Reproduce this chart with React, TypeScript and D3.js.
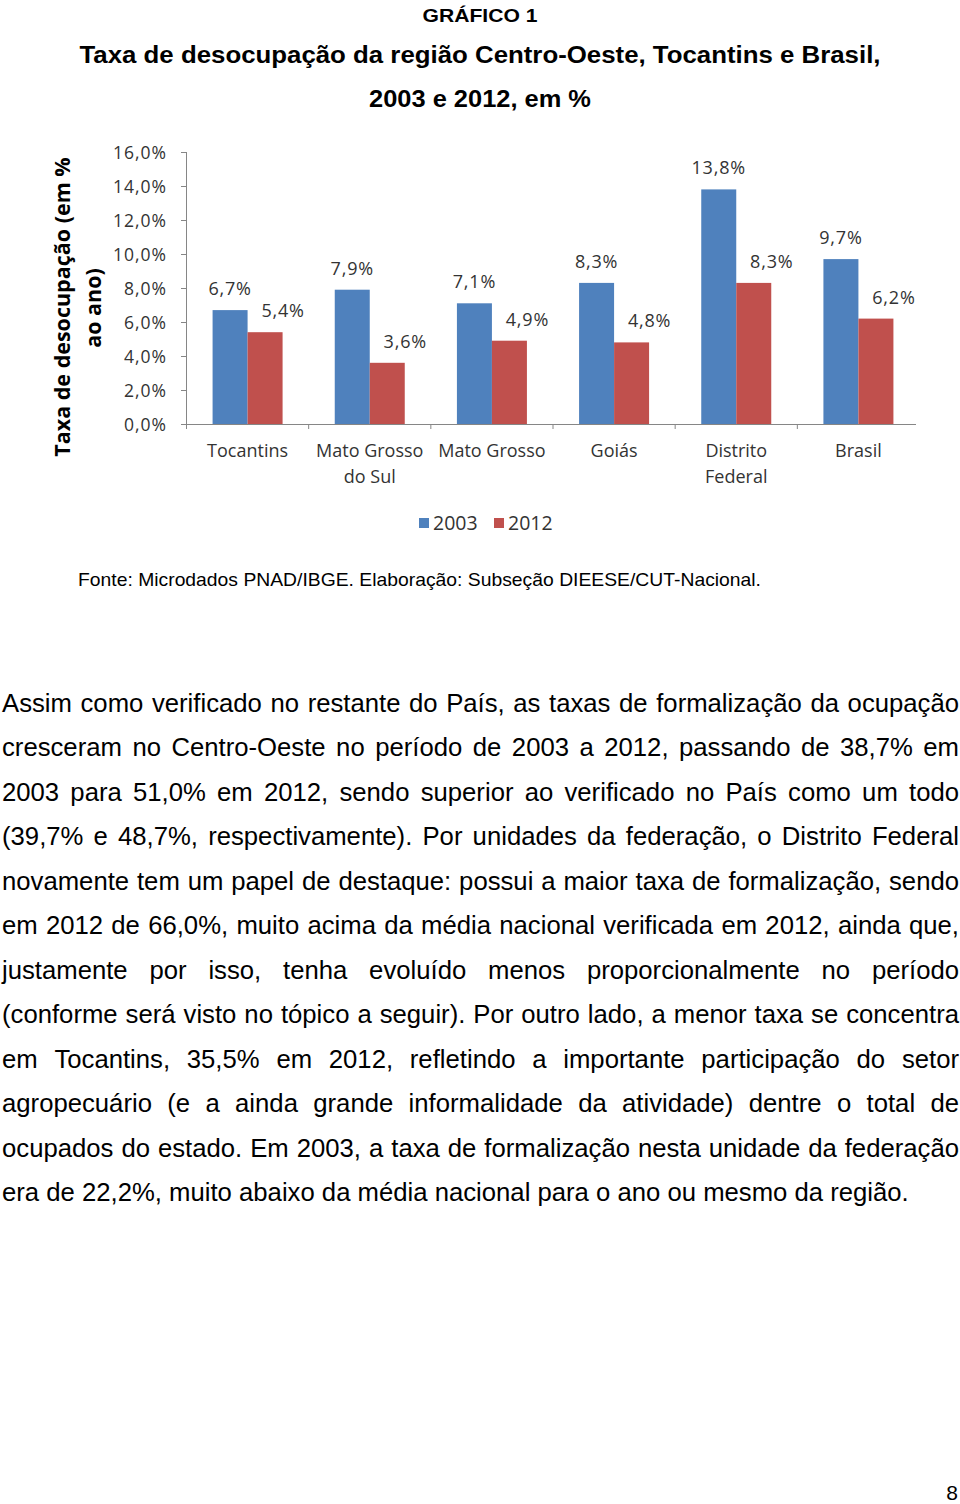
import React, { useMemo } from "react";
import * as d3 from "d3";

const categories = ["Tocantins", "Mato Grosso\ndo Sul", "Mato Grosso", "Goiás", "Distrito\nFederal", "Brasil"];
const series = ["2003", "2012"];
const values2003 = [6.7, 7.9, 7.1, 8.3, 13.8, 9.7];
const values2012 = [5.4, 3.6, 4.9, 4.8, 8.3, 6.2];
const yTicks = [0, 2, 4, 6, 8, 10, 12, 14, 16];
const colors = ["#4F81BD", "#C0504D"];

const bodyLines = [
  "Assim como verificado no restante do País, as taxas de formalização da ocupação",
  "cresceram no Centro-Oeste no período de 2003 a 2012, passando de 38,7% em",
  "2003 para 51,0% em 2012, sendo superior ao verificado no País como um todo",
  "(39,7% e 48,7%, respectivamente). Por unidades da federação, o Distrito Federal",
  "novamente tem um papel de destaque: possui a maior taxa de formalização, sendo",
  "em 2012 de 66,0%, muito acima da média nacional verificada em 2012, ainda que,",
  "justamente por isso, tenha evoluído menos proporcionalmente no período",
  "(conforme será visto no tópico a seguir). Por outro lado, a menor taxa se concentra",
  "em Tocantins, 35,5% em 2012, refletindo a importante participação do setor",
  "agropecuário (e a ainda grande informalidade da atividade) dentre o total de",
  "ocupados do estado. Em 2003, a taxa de formalização nesta unidade da federação",
  "era de 22,2%, muito abaixo da média nacional para o ano ou mesmo da região.",
];

const fmtPct = (v: number) => d3.format(".1f")(v).replace(".", ",") + "%";

const BODY_FONT = "'Liberation Sans', Arial, sans-serif";
const CHART_FONT = "'Open Sans', sans-serif";

function useMeasure() {
  return useMemo(() => {
    const c = document.createElement("canvas");
    const ctx = c.getContext("2d")!;
    return (text: string, size: number, family: string, weight = "normal") => {
      ctx.font = `${weight} ${size}px ${family}`;
      return ctx.measureText(text).width;
    };
  }, []);
}

export default function App() {
  const measure = useMeasure();

  const W = 960, H = 1504;
  const x0 = d3.scaleBand<string>().domain(categories).range([186.5, 919.5]).paddingInner(0).paddingOuter(0);
  const groupW = 70;
  const x1 = d3.scaleBand<string>().domain(series).range([0, groupW]);
  const y = d3.scaleLinear().domain([0, 16]).range([424, 152]);
  const axisColor = "#868686";
  const textColor = "#333";

  // Body text justification
  const left = 2, right = 959;
  const lastNatural = 907;
  const sizeRef = 100;
  const fs = (lastNatural / measure(bodyLines[bodyLines.length - 1], sizeRef, BODY_FONT)) * sizeRef;
  const baseline0 = 712;
  const lineStep = 44.45;

  const justified = bodyLines.map((line, i) => {
    const words = line.split(" ");
    const widths = words.map((w) => measure(w, fs, BODY_FONT));
    const total = widths.reduce((a, b) => a + b, 0);
    const isLast = i === bodyLines.length - 1;
    const spaceW = measure(" ", fs, BODY_FONT);
    const gap = isLast ? spaceW : (right - left - total) / (words.length - 1);
    let xCur = left;
    const pos = words.map((w, k) => {
      const p = { w, x: xCur };
      xCur += widths[k] + gap;
      return p;
    });
    return { pos, y: baseline0 + i * lineStep, isLast };
  });

  const bars: { key: string; x: number; y: number; w: number; h: number; fill: string; v: number; s: number }[] = [];
  categories.forEach((c, ci) => {
    const bw = x0.bandwidth();
    const gx = (x0(c) as number) + (bw - groupW) / 2;
    [values2003[ci], values2012[ci]].forEach((v, si) => {
      bars.push({
        key: c + si,
        x: gx + (x1(series[si]) as number),
        y: y(v),
        w: x1.bandwidth(),
        h: y(0) - y(v),
        fill: colors[si],
        v,
        s: si,
      });
    });
  });

  const xBoundaries = [...categories.map((c) => x0(c) as number), (x0.range()[1] as number)];

  return (
    <svg width={W} height={H} style={{ position: "absolute", left: 0, top: 0, background: "#fff" }}>
      <rect x={0} y={0} width={W} height={H} fill="#fff" />
      {/* Titles */}
      <text x={480} y={22} textAnchor="middle" fontFamily={BODY_FONT} fontWeight="bold" fontSize={19}
        textLength={115} lengthAdjust="spacingAndGlyphs">GRÁFICO 1</text>
      <text x={480} y={63} textAnchor="middle" fontFamily={BODY_FONT} fontWeight="bold" fontSize={23}
        textLength={801} lengthAdjust="spacingAndGlyphs">Taxa de desocupação da região Centro-Oeste, Tocantins e Brasil,</text>
      <text x={480} y={107} textAnchor="middle" fontFamily={BODY_FONT} fontWeight="bold" fontSize={23}
        textLength={222} lengthAdjust="spacingAndGlyphs">2003 e 2012, em %</text>

      {/* Y axis title */}
      <g fontFamily={CHART_FONT} fontWeight="bold" fontSize={21.5} fill="#000">
        <text transform="translate(69.5,307) rotate(-90)" textAnchor="middle">Taxa de desocupação (em %</text>
        <text transform="translate(100.5,308) rotate(-90)" textAnchor="middle">ao ano)</text>
      </g>

      {/* Y axis */}
      <line x1={186.5} x2={186.5} y1={y(16)} y2={y(0) + 5} stroke={axisColor} />
      {yTicks.map((t) => (
        <g key={t}>
          <line x1={181} x2={186.5} y1={y(t) + 0.5} y2={y(t) + 0.5} stroke={axisColor} />
          <text x={167} y={y(t) + 6.5} textAnchor="end" fontFamily={CHART_FONT} fontSize={17.5}
            letterSpacing={1} fill={textColor}>
            {fmtPct(t)}
          </text>
        </g>
      ))}

      {/* Bars */}
      {bars.map((b) => (
        <rect key={b.key} x={b.x} y={b.y} width={b.w} height={b.h} fill={b.fill} />
      ))}

      {/* X axis */}
      <line x1={181} x2={916} y1={y(0) + 0.5} y2={y(0) + 0.5} stroke={axisColor} />
      {xBoundaries.slice(1, -1).map((xb, i) => (
        <line key={i} x1={xb} x2={xb} y1={y(0)} y2={y(0) + 5} stroke={axisColor} />
      ))}

      {/* Data labels */}
      {bars.map((b) => (
        <text key={"l" + b.key} x={b.x + b.w / 2 + (b.s === 1 ? 18 : 0)} y={b.y - 15}
          textAnchor="middle" fontFamily={CHART_FONT} fontSize={18} letterSpacing={0.8} fill={textColor}>
          {fmtPct(b.v)}
        </text>
      ))}

      {/* Category labels */}
      {categories.map((c) => {
        const cx = (x0(c) as number) + x0.bandwidth() / 2;
        return (
          <text key={c} textAnchor="middle" fontFamily={CHART_FONT} fontSize={18} fill={textColor}>
            {c.split("\n").map((ln, k) => (
              <tspan key={k} x={cx} y={457 + k * 26}>{ln}</tspan>
            ))}
          </text>
        );
      })}

      {/* Legend */}
      {series.map((s, i) => {
        const lx = 419 + i * 75;
        return (
          <g key={s}>
            <rect x={lx} y={518} width={10} height={10} fill={colors[i]} />
            <text x={lx + 14} y={530} fontFamily={CHART_FONT} fontSize={19.5} fill={textColor}>{s}</text>
          </g>
        );
      })}

      {/* Source */}
      <text x={78} y={586} fontFamily={BODY_FONT} fontSize={19} fill="#000"
        textLength={683} lengthAdjust="spacingAndGlyphs">
        Fonte: Microdados PNAD/IBGE. Elaboração: Subseção DIEESE/CUT-Nacional.
      </text>

      {/* Body paragraph */}
      <g fontFamily={BODY_FONT} fontSize={fs} fill="#000">
        {justified.map((ln, i) => (
          <text key={i} y={ln.y}>
            {ln.pos.map((p, k) => (
              <tspan key={k} x={p.x}>{p.w}</tspan>
            ))}
          </text>
        ))}
      </g>

      {/* Page number */}
      <text x={958} y={1500} textAnchor="end" fontFamily={BODY_FONT} fontSize={21} fill="#000">8</text>
    </svg>
  );
}
